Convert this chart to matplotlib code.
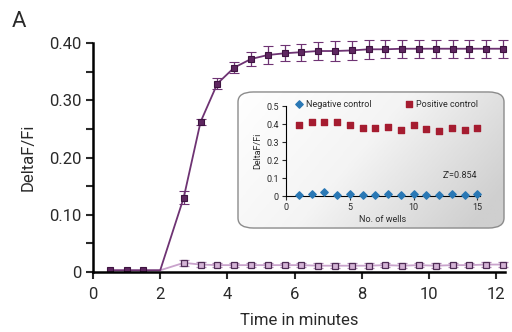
import matplotlib
matplotlib.use("Agg")
import matplotlib.pyplot as plt
import numpy as np
from matplotlib.patches import FancyBboxPatch
from matplotlib.colors import LinearSegmentedColormap

plt.rcParams['font.family'] = ['Roboto', 'DejaVu Sans']

# Main chart data
time_pos = [0.5, 1.0, 1.5, 2.0, 2.7, 3.2, 3.7, 4.2, 4.7, 5.2, 5.7, 6.2, 6.7, 7.2, 7.7,
            8.2, 8.7, 9.2, 9.7, 10.2, 10.7, 11.2, 11.7, 12.2]
pos_vals = [0.003, 0.003, 0.003, 0.003, 0.130, 0.262, 0.329, 0.357, 0.372, 0.379, 0.382,
            0.384, 0.386, 0.386, 0.387, 0.389, 0.389, 0.390, 0.390, 0.390, 0.390, 0.390,
            0.390, 0.390]
pos_err = [0.002, 0.002, 0.002, 0.0, 0.012, 0.005, 0.010, 0.009, 0.013, 0.015, 0.014,
           0.015, 0.015, 0.017, 0.017, 0.017, 0.016, 0.016, 0.016, 0.016, 0.016, 0.016,
           0.016, 0.016]
neg_vals = [0.003, 0.003, 0.003, 0.003, 0.016, 0.013, 0.012, 0.012, 0.012, 0.012, 0.012,
            0.012, 0.011, 0.011, 0.011, 0.011, 0.012, 0.011, 0.012, 0.011, 0.012, 0.012,
            0.013, 0.013]
neg_err = [0.001, 0.001, 0.001, 0.0, 0.005, 0.004, 0.004, 0.004, 0.004, 0.004, 0.004,
           0.004, 0.004, 0.004, 0.004, 0.004, 0.004, 0.004, 0.004, 0.004, 0.004, 0.004,
           0.004, 0.004]
early_idx = [0, 1, 2]
late_idx = list(range(4, 24))

# Inset data
wells = list(range(1, 16))
inset_pos = [0.394, 0.413, 0.413, 0.413, 0.394, 0.376, 0.376, 0.385, 0.367, 0.394,
             0.370, 0.361, 0.376, 0.367, 0.376]
inset_neg = [0.006, 0.011, 0.020, 0.006, 0.011, 0.006, 0.006, 0.011, 0.006, 0.011,
             0.006, 0.006, 0.011, 0.006, 0.011]

DARK = '#5e2660'
LINE_DARK = '#6e3373'
LIGHT_LINE = '#c9a3cc'
LIGHT_FACE = '#d4b4d6'
LIGHT_EDGE = '#4e2c55'
LIGHT_ERR = '#b48ab8'
TXT = '#2a2a2a'

fig = plt.figure(figsize=(5.12, 3.32), dpi=100)
ax = fig.add_axes([93/512, 1-272/332, (505-93)/512, (272-43)/332])


def pick(seq, idx):
    return [seq[i] for i in idx]


# negative series
ax.plot(time_pos, neg_vals, color=LIGHT_LINE, lw=1.3, zorder=2)
ax.errorbar(pick(time_pos, late_idx), pick(neg_vals, late_idx),
            yerr=pick(neg_err, late_idx), fmt='s', ms=4.5,
            mfc=LIGHT_FACE, mec=LIGHT_EDGE, mew=0.9, ecolor=LIGHT_ERR, elinewidth=0.9,
            capsize=3.5, capthick=0.9, zorder=3, clip_on=False)
# positive series
ax.plot(time_pos, pos_vals, color=LINE_DARK, lw=1.3, zorder=4, clip_on=False)
ax.errorbar(pick(time_pos, late_idx), pick(pos_vals, late_idx),
            yerr=pick(pos_err, late_idx), fmt='s', ms=4.7,
            mfc=DARK, mec='#3e1440', mew=0.8, ecolor=LINE_DARK, elinewidth=0.9,
            capsize=3.5, capthick=0.9, zorder=5, clip_on=False)
ax.plot(pick(time_pos, early_idx), pick(pos_vals, early_idx), 's', ms=4.7,
        mfc=DARK, mec='#3e1440', mew=0.8, zorder=5, clip_on=True)

ax.set_xlim(0, 12.26)
ax.set_ylim(0, 0.40)
ax.set_xticks([0, 2, 4, 6, 8, 10, 12])
ax.set_yticks([0, 0.1, 0.2, 0.3, 0.4])
ax.set_yticklabels(['0', '0.10', '0.20', '0.30', '0.40'])
ax.set_yticks([0.05, 0.15, 0.25, 0.35], minor=True)
for s in ['top', 'right']:
    ax.spines[s].set_visible(False)
for s in ['left', 'bottom']:
    ax.spines[s].set_linewidth(1.8)
    ax.spines[s].set_zorder(6)
ax.tick_params(axis='both', which='both', direction='out', length=5, width=1.5,
               labelsize=12, colors=TXT, pad=3)
ax.tick_params(axis='x', pad=6)
ax.tick_params(axis='y', which='minor', length=5, width=1.5)
ax.set_xlabel('Time in minutes', fontsize=12, color=TXT, labelpad=8)
ax.set_ylabel('DeltaF/Fi', fontsize=12, color=TXT, labelpad=10)
fig.text(12/512, 1-27/332, 'A', fontsize=16, color=TXT)

# Inset background: rounded box with gradient
bx0, by0, bx1, by1 = 238/512, 1-233/332, 504/512, 1-87/332
bg_ax = fig.add_axes([bx0 - 0.01, by0 - 0.02, (bx1 - bx0) + 0.02, (by1 - by0) + 0.04])
bg_ax.set_xlim(bx0 - 0.01, bx1 + 0.01)
bg_ax.set_ylim(by0 - 0.02, by1 + 0.02)
bg_ax.axis('off')
gx = np.linspace(0, 1, 200)
gy = np.linspace(0, 1, 100)
GX, GY = np.meshgrid(gx, gy)
grad = np.clip(0.75 * GX + 0.35 * GY, 0, 1)
cmap = LinearSegmentedColormap.from_list('g', ['#ffffff', '#f4f4f4', '#cfcfcf'])
patch = FancyBboxPatch((bx0 + 0.025, by0 + 0.04), (bx1 - bx0) - 0.05, (by1 - by0) - 0.08,
                       boxstyle='round,pad=0.025,rounding_size=0.03',
                       facecolor='none', edgecolor='#8c8c8c', lw=1.0,
                       transform=bg_ax.transData, zorder=3)
im = bg_ax.imshow(grad, extent=[bx0, bx1, by0, by1], cmap=cmap, origin='upper',
                  aspect='auto', zorder=1)
bg_ax.add_patch(patch)
im.set_clip_path(patch)

ins = fig.add_axes([286/512, 1-196/332, (480-286)/512, (196-106)/332])
ins.patch.set_alpha(0)
ins.scatter(wells, inset_pos, marker='s', s=22, color='#a51c30', zorder=3,
            label='Positive control', clip_on=False)
ins.scatter(wells, inset_neg, marker='D', s=14, color='#2a78b5', zorder=3,
            label='Negative control', clip_on=False)
ins.set_xlim(0, 15.2)
ins.set_ylim(0, 0.5)
ins.set_xticks([0, 5, 10, 15])
ins.set_yticks([0, 0.1, 0.2, 0.3, 0.4, 0.5])
ins.set_yticklabels(['0', '0.1', '0.2', '0.3', '0.4', '0.5'])
for s in ['top', 'right']:
    ins.spines[s].set_visible(False)
for s in ['left', 'bottom']:
    ins.spines[s].set_linewidth(0.8)
ins.tick_params(axis='both', direction='out', length=3, width=0.8, labelsize=6.5,
                colors=TXT, pad=2)
ins.set_xlabel('No. of wells', fontsize=6.5, labelpad=2, color=TXT)
ins.set_ylabel('DeltaF/Fi', fontsize=6.5, labelpad=3, color=TXT)
ins.text(15, 0.09, "Z'=0.854", fontsize=6.5, ha='right', va='bottom', color=TXT)
handles, labels = ins.get_legend_handles_labels()
leg = ins.legend(handles[::-1], labels[::-1], loc='lower left', bbox_to_anchor=(0.02, 0.93),
                 ncol=2, frameon=False, fontsize=6.5, handletextpad=0.2, columnspacing=3.5,
                 borderaxespad=0, handlelength=1.2)
for t in leg.get_texts():
    t.set_color(TXT)

fig.savefig('out.png', dpi=100)
